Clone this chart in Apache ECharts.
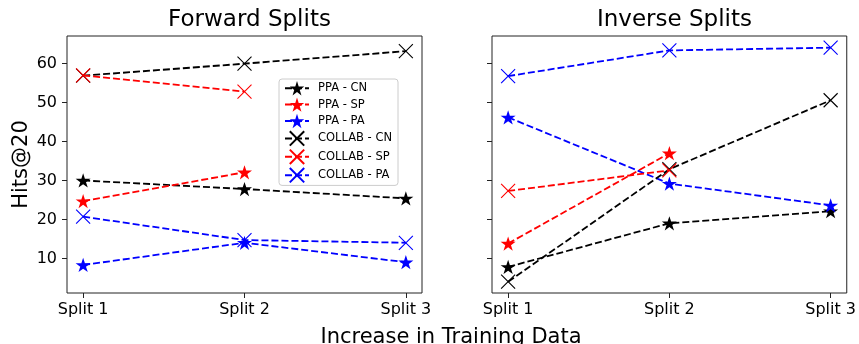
<!DOCTYPE html>
<html>
<head>
<meta charset="utf-8">
<script src="https://cdn.jsdelivr.net/npm/echarts@6/dist/echarts.min.js"></script>
<style>
html,body{margin:0;padding:0;background:#fff;}
#chart{width:859px;height:344px;}
</style>
</head>
<body>
<div id="chart"></div>
<script>
const categories = ['Split 1', 'Split 2', 'Split 3'];
const yTicks = [10, 20, 30, 40, 50, 60];
const seriesNames = ['PPA - CN', 'PPA - SP', 'PPA - PA', 'COLLAB - CN', 'COLLAB - SP', 'COLLAB - PA'];

// Forward Splits
const fwdPpaCn = [30.0, 27.8, 25.4];
const fwdPpaSp = [24.7, 32.1];
const fwdPpaPa = [8.3, 14.0, 9.0];
const fwdCollabCn = [56.9, 60.0, 63.2];
const fwdCollabSp = [57.0, 52.8];
const fwdCollabPa = [20.7, 14.7, 14.0];

// Inverse Splits
const invPpaCn = [7.8, 19.0, 22.1];
const invPpaSp = [13.8, 37.0];
const invPpaPa = [46.2, 29.2, 23.6];
const invCollabCn = [4.0, 32.9, 50.6];
const invCollabSp = [27.3, 32.6];
const invCollabPa = [56.8, 63.4, 64.1];

const FONT = 'DejaVu Sans';
const colors = ['#000000', '#ff0000', '#0000ff', '#000000', '#ff0000', '#0000ff'];
const STAR = 'path://M100,0L122.45,69.1L195.11,69.1L136.33,111.8L158.78,180.9L100,138.2L41.22,180.9L63.67,111.8L4.89,69.1L77.55,69.1Z';
const CROSS = 'path://M0,0L10,10M10,0L0,10';

function toPts(arr) { return arr.map((v, i) => [i, v]); }

function makeSeries(idx, arr, gridIdx) {
  const isStar = idx < 3;
  const c = colors[idx];
  return {
    name: seriesNames[idx],
    type: 'line',
    xAxisIndex: gridIdx,
    yAxisIndex: gridIdx,
    data: toPts(arr),
    symbol: isStar ? STAR : CROSS,
    symbolKeepAspect: true,
    symbolSize: isStar ? 15 : 14,
    showAllSymbol: true,
    animation: false,
    lineStyle: { color: c, width: 1.8, type: [7, 3] },
    itemStyle: isStar ? { color: c, borderWidth: 0 } : { color: c, borderColor: c, borderWidth: 1.1 },
    emphasis: { disabled: true },
    z: 2 + idx
  };
}

const fwd = [fwdPpaCn, fwdPpaSp, fwdPpaPa, fwdCollabCn, fwdCollabSp, fwdCollabPa];
const inv = [invPpaCn, invPpaSp, invPpaPa, invCollabCn, invCollabSp, invCollabPa];
const series = [];
fwd.forEach((a, i) => series.push(makeSeries(i, a, 0)));
inv.forEach((a, i) => series.push(makeSeries(i, a, 1)));

function xAxis(gi) {
  return {
    type: 'value', gridIndex: gi, min: -0.1, max: 2.1, position: 'bottom',
    axisLine: { show: false, onZero: false },
    splitLine: { show: false },
    axisTick: { show: true, inside: false, customValues: [0, 1, 2], length: 5, lineStyle: { color: '#222', width: 1 } },
    axisLabel: {
      customValues: [0, 1, 2], margin: 9,
      formatter: v => categories[Math.round(v)] || '',
      fontFamily: FONT, fontSize: 16, color: '#000'
    }
  };
}
function yAxis(gi) {
  return {
    type: 'value', gridIndex: gi, min: 1.1, max: 67.1, position: 'left',
    axisLine: { show: false, onZero: false },
    splitLine: { show: false },
    axisTick: { show: true, inside: false, customValues: yTicks, length: 5, lineStyle: { color: '#222', width: 1 } },
    axisLabel: {
      show: gi === 0, customValues: yTicks, margin: 10,
      fontFamily: FONT, fontSize: 16, color: '#000'
    },
    name: gi === 0 ? 'Hits@20' : '',
    nameLocation: 'middle', nameGap: 35, nameRotate: 90,
    nameTextStyle: { fontFamily: FONT, fontSize: 21, color: '#000' }
  };
}

const chart = echarts.init(document.getElementById('chart'), null, { renderer: 'canvas' });
chart.setOption({
  backgroundColor: '#fff',
  animation: false,
  title: [
    { text: 'Forward Splits', left: 244.5, top: 4, textAlign: 'center',
      textStyle: { fontFamily: FONT, fontSize: 23, fontWeight: 'normal', color: '#000' } },
    { text: 'Inverse Splits', left: 669.5, top: 4, textAlign: 'center',
      textStyle: { fontFamily: FONT, fontSize: 23, fontWeight: 'normal', color: '#000' } },
    { text: 'Increase in Training Data', left: 446, top: 322, textAlign: 'center',
      textStyle: { fontFamily: FONT, fontSize: 21, fontWeight: 'normal', color: '#000' } }
  ],
  grid: [
    { left: 67, top: 36, width: 355, height: 257, show: true, borderColor: '#222', borderWidth: 1, backgroundColor: 'transparent' },
    { left: 492, top: 36, width: 355, height: 257, show: true, borderColor: '#222', borderWidth: 1, backgroundColor: 'transparent' }
  ],
  xAxis: [xAxis(0), xAxis(1)],
  yAxis: [yAxis(0), yAxis(1)],
  legend: {
    data: seriesNames,
    orient: 'vertical',
    left: 279, top: 79,
    padding: [2, 6, 2, 5],
    itemWidth: 24, itemHeight: 18, itemGap: 2,
    backgroundColor: 'rgba(255,255,255,0.8)',
    borderColor: '#cccccc', borderWidth: 1, borderRadius: 3,
    selectedMode: false,
    textStyle: { fontFamily: FONT, fontSize: 11.5, color: '#000', padding: [0, 0, 0, 4] }
  },
  series: series
});
</script>
</body>
</html>
